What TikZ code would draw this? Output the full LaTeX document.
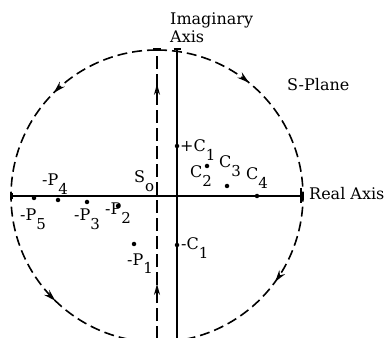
\documentclass[tikz,border=0pt]{standalone}
\usepackage{fontspec}
\setmainfont{DejaVu Serif}
\usetikzlibrary{arrows.meta,decorations.markings}
\newcommand\lowsub[1]{\raisebox{-9pt}{\fontsize{15}{15}\selectfont #1}}
\tikzset{
  lbl/.style={anchor=base west, inner sep=0pt, font=\fontsize{16}{16}\selectfont},
  dotpt/.style={circle, fill, inner sep=0pt, minimum size=4.5pt},
  axisline/.style={line width=1.6pt},
  dshline/.style={line width=1.6pt, dash pattern=on 10pt off 5pt},
  vdshline/.style={line width=1.6pt, dash pattern=on 13pt off 5pt}
}
\begin{document}
\begin{tikzpicture}[x=1pt,y=1pt]
\useasboundingbox (0,0) rectangle (390,337);
% coordinates
\coordinate (O) at (157,141);
\coordinate (imtop) at (177,288);
\coordinate (imbot) at (177,-2);
\coordinate (dtop) at (157,288);
\coordinate (dbot) at (157,-2);
\coordinate (releft) at (12,141);
\coordinate (reright) at (301,141);
% dashed circle
\draw[dshline, postaction={decorate}, decoration={markings,
   mark=at position 0.25 with {\arrow{Stealth[length=12pt,width=7pt]}},
   mark=at position 0.755 with {\arrow{Stealth[length=12pt,width=7pt]}}}]
  (157,287) arc[start angle=90, end angle=270, radius=146pt];
\draw[dshline, postaction={decorate}, decoration={markings,
   mark=at position 0.217 with {\arrow{Stealth[length=12pt,width=7pt]}},
   mark=at position 0.70 with {\arrow{Stealth[length=12pt,width=7pt]}}}]
  (157,287) arc[start angle=90, end angle=-90, radius=146pt];
% dashed vertical line
\draw[vdshline, postaction={decorate}, decoration={markings,
   mark=at position 0.19 with {\arrow{Stealth[length=11pt,width=6pt]}},
   mark=at position 0.88 with {\arrow{Stealth[length=11pt,width=6pt]}}}]
  (dbot) -- (dtop);
\draw[axisline] ([xshift=-4pt]dtop) -- ([xshift=4pt]dtop);
% imaginary axis
\draw[axisline] (imbot) -- (imtop);
\draw[axisline] ([xshift=-3.5pt]imtop) -- ([xshift=3.5pt]imtop);
% real axis
\draw[axisline] (releft) -- (reright);
\draw[axisline] ([yshift=-7pt]reright) -- ([yshift=8pt]reright);
\draw[axisline] ([yshift=-3pt]releft) -- ([yshift=3pt]releft);
% points
\node[dotpt] (c1p) at (177,191) {};
\node[dotpt] (c1m) at (177,92) {};
\node[dotpt] (c2) at (207,171) {};
\node[dotpt] (c3) at (227,151) {};
\node[dotpt] (c4) at (257,141) {};
\node[dotpt] (p5) at (34,139) {};
\node[dotpt] (p4) at (58,137) {};
\node[dotpt] (p3) at (87,135) {};
\node[dotpt] (p2) at (118,131) {};
\node[dotpt] (p1) at (134,93) {};
% labels
\node[lbl] (imag) at (170,312) {Imaginary};
\node[lbl] (axis) at (170,294) {Axis};
\node[lbl] (splane) at (287,246) {S-Plane};
\node[lbl] (real) at (309,137) {Real Axis};
\node[lbl] (lc1p) at (180,185) {+C\lowsub{1}};
\node[lbl] (lc1m) at (181,87) {-C\lowsub{1}};
\node[lbl] (lc2) at (190,159) {C\lowsub{2}};
\node[lbl] (lc3) at (219,169) {C\lowsub{3}};
\node[lbl] (lc4) at (246,157) {C\lowsub{4}};
\node[lbl] (lso) at (134,154) {S\lowsub{o}};
\node[lbl] (lp4) at (42,151) {-P\lowsub{4}};
\node[lbl] (lp5) at (20,116) {-P\lowsub{5}};
\node[lbl] (lp3) at (74,116) {-P\lowsub{3}};
\node[lbl] (lp2) at (105,122) {-P\lowsub{2}};
\node[lbl] (lp1) at (127,72) {-P\lowsub{1}};
\end{tikzpicture}
\end{document}
